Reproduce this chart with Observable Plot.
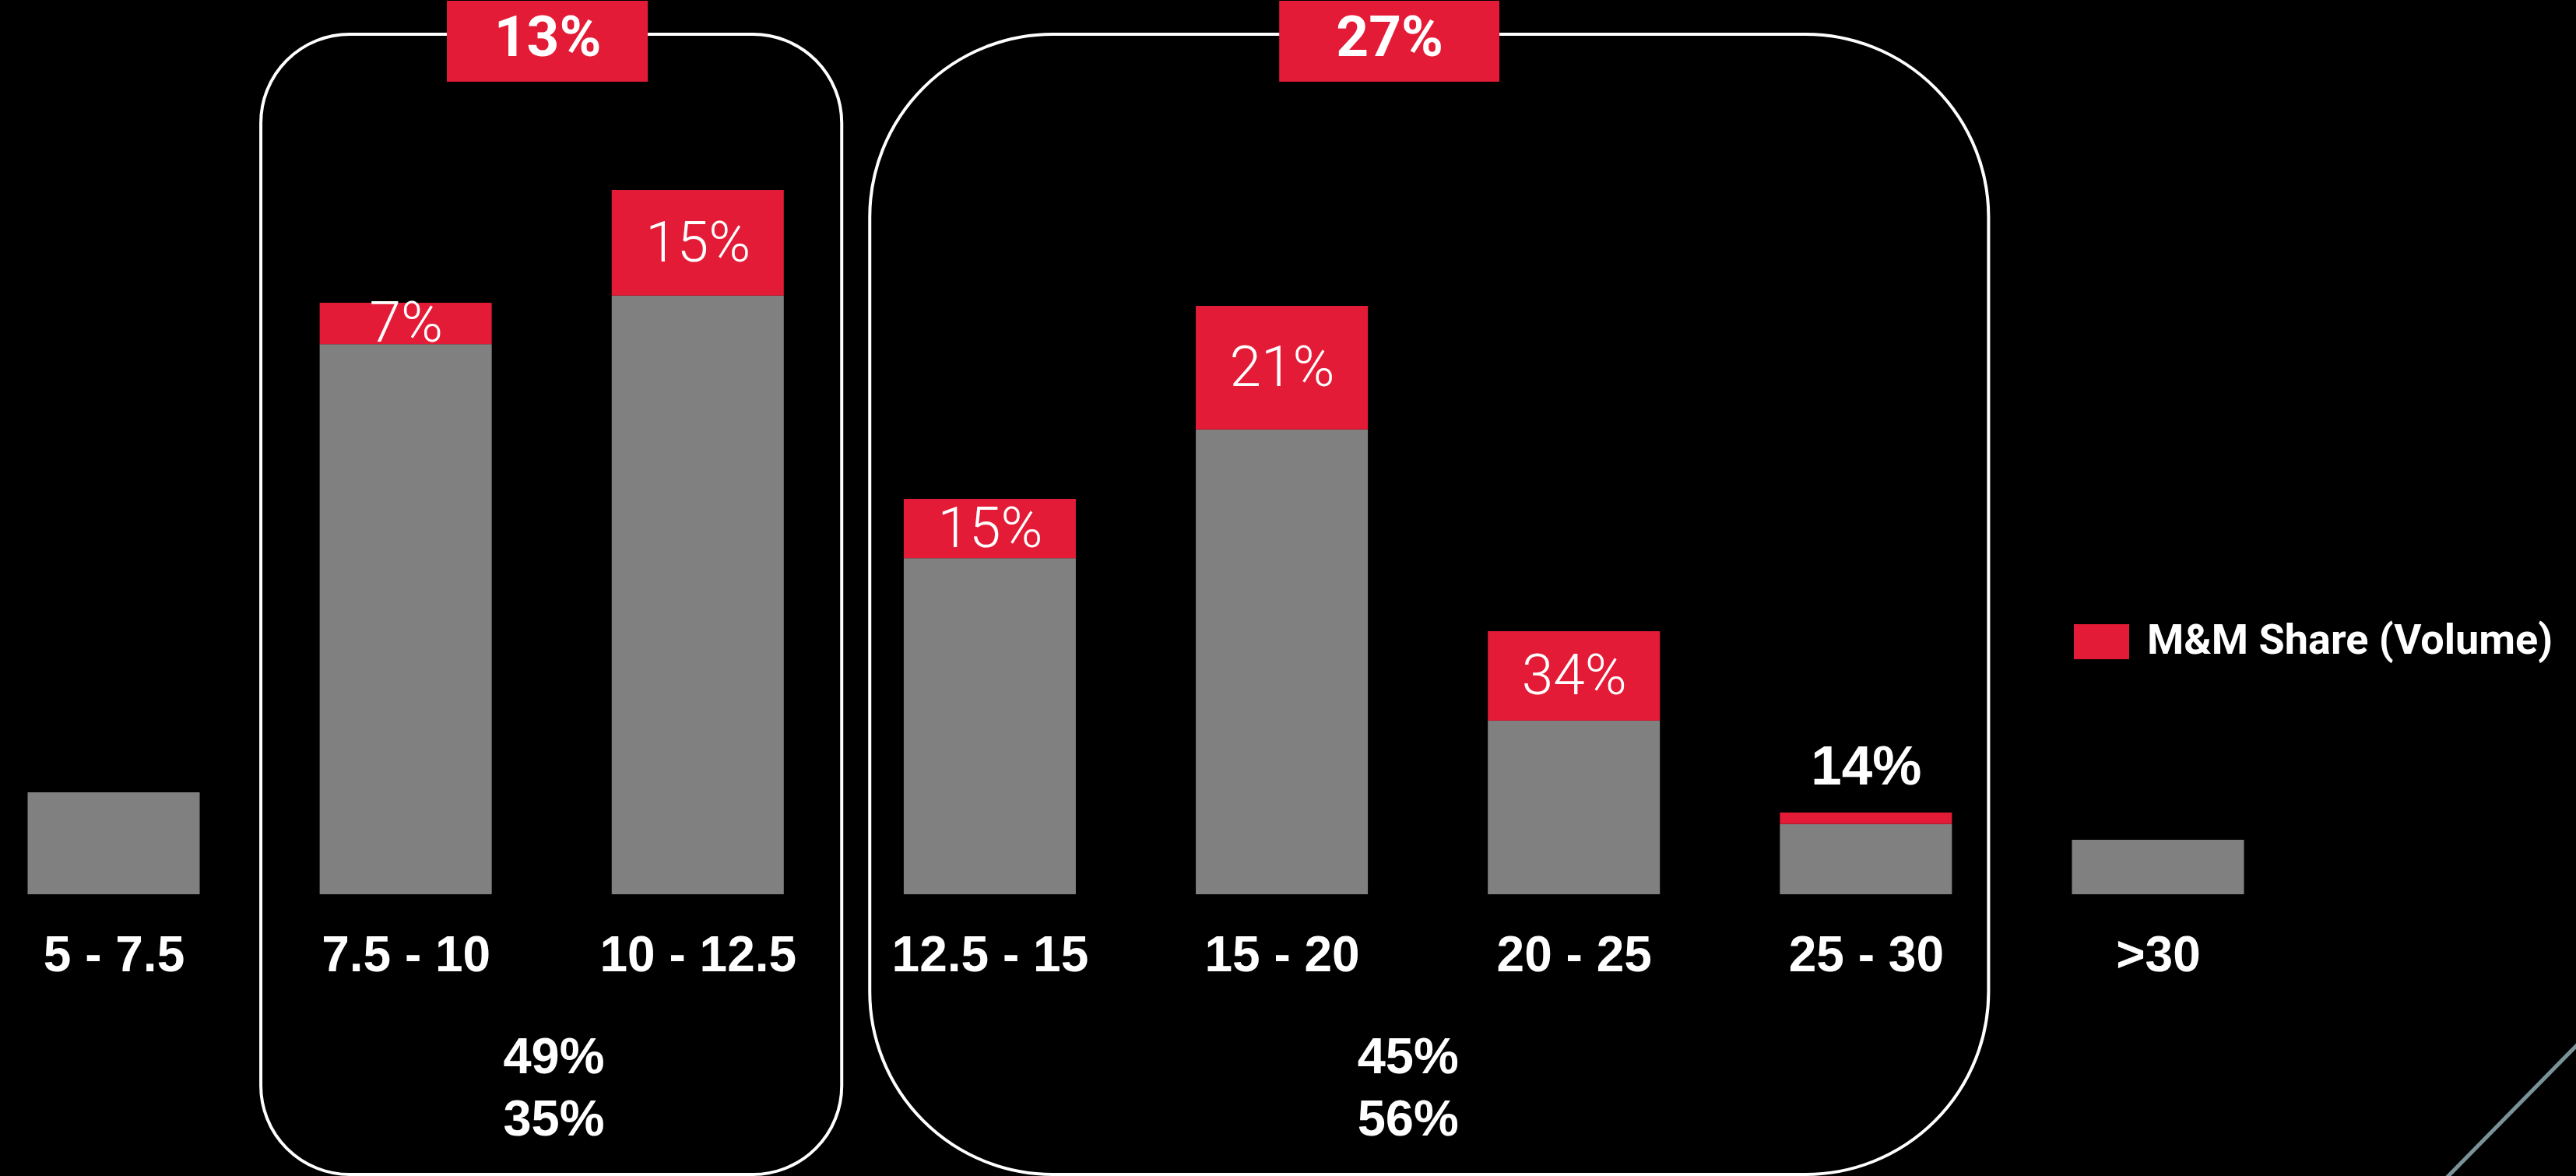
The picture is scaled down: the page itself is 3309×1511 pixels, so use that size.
<!DOCTYPE html>
<html>
<head>
<meta charset="utf-8">
<script src="https://cdn.jsdelivr.net/npm/d3@7"></script>
<script src="https://cdn.jsdelivr.net/npm/@observablehq/plot@0.6"></script>
<style>
  html, body { margin: 0; padding: 0; background: #000; }
  body { position: relative; width: 3309px; height: 1511px; overflow: hidden; }
  #chart svg { display: block; }
  g[aria-label="x-axis tick label"] text { font-weight: bold; }
  .legend-swatch { position: absolute; left: 2664px; top: 802px; width: 71px; height: 45px; background: #E31B36; }
  .legend-text { position: absolute; left: 2758px; top: 795px; font: bold 54px/1 Roboto, "Noto Sans", sans-serif; color: #fff; white-space: nowrap; }
  .deco { position: absolute; left: 3064px; top: 1423px; width: 330px; height: 5px; background: #7a9399; transform: rotate(-45.5deg); transform-origin: 50% 50%; }
</style>
</head>
<body>
<div id="chart"></div>
<div class="legend-swatch"></div>
<div class="legend-text" id="legendText"></div>
<div class="deco"></div>
<script>
// ---- data ----
const categories = ["5 - 7.5", "7.5 - 10", "10 - 12.5", "12.5 - 15", "15 - 20", "20 - 25", "25 - 30", ">30"];
const volume = [13.1, 76.0, 90.5, 50.8, 75.6, 33.8, 10.5, 7.0];      // total segment volume (relative)
const share = [null, 7, 15, 15, 21, 34, 14, null];                      // M&M share (%)
const groupStart = [1, 3];
const groupEnd = [2, 6];
const groupShare = ["13%", "27%"];
const groupLine1 = ["49%", "45%"];
const groupLine2 = ["35%", "56%"];
const legendLabel = "M&M Share (Volume)";

// ---- styling / layout ----
const RED = "#E31B36", GRAY = "#808080";
const halfBar = 0.2946;
const boxLayout = [
  {padL: 0.496, padR: 0.493, r: 114, labelX: 1.485, labelHalf: 0.344, bottomX: 1.506},
  {padL: 0.411, padR: 0.420, r: 235, labelX: 4.368, labelHalf: 0.377, bottomX: 4.431}
];
const boxTop = 110.5, boxBottom = -36.0;

const bars = categories.map((c, i) => ({i, c, v: volume[i], s: share[i]}));
const withShare = bars.filter(d => d.s != null);
const inside = withShare.filter(d => d.v * d.s / 100 >= 3);
const above = withShare.filter(d => d.v * d.s / 100 < 3);
const groups = groupStart.map((s, k) => ({
  start: s, end: groupEnd[k], share: groupShare[k], l1: groupLine1[k], l2: groupLine2[k], ...boxLayout[k]
}));

const boxMarks = groups.map(g => Plot.rect([g], {
  x1: d => d.start - d.padL, x2: d => d.end + d.padR,
  y1: boxBottom, y2: boxTop, rx: g.r,
  fill: "none", stroke: "white", strokeWidth: 4
}));

const chart = Plot.plot({
  width: 3309,
  height: 1511,
  marginTop: 0, marginRight: 0, marginLeft: 0, marginBottom: 362,
  style: {background: "black", color: "white", fontFamily: "Roboto, sans-serif", overflow: "visible"},
  x: {domain: [0, 7], range: [146, 2772]},
  y: {domain: [0, 100], range: [1149, 149], axis: null},
  marks: [
    ...boxMarks,
    Plot.rect(bars, {
      x1: d => d.i - halfBar, x2: d => d.i + halfBar,
      y1: 0, y2: d => d.s != null ? d.v * (1 - d.s / 100) : d.v,
      fill: GRAY
    }),
    Plot.rect(withShare, {
      x1: d => d.i - halfBar, x2: d => d.i + halfBar,
      y1: d => d.v * (1 - d.s / 100), y2: d => d.v,
      fill: RED
    }),
    Plot.text(inside, {
      x: d => d.i, y: d => d.v * (1 - d.s / 200), text: d => d.s + "%",
      fill: "white", fontSize: 73, fontWeight: 300, fontFamily: "Roboto"
    }),
    Plot.text(above, {
      x: d => d.i, y: d => d.v, text: d => d.s + "%", lineAnchor: "bottom", dy: -37,
      fill: "white", fontSize: 71, fontWeight: "bold", fontFamily: "Liberation Sans"
    }),
    Plot.rect(groups, {
      x1: d => d.labelX - d.labelHalf, x2: d => d.labelX + d.labelHalf,
      y1: 104.4, y2: 114.8, fill: RED
    }),
    Plot.text(groups, {
      x: d => d.labelX, y: 110.1, text: d => d.share,
      fill: "white", fontSize: 73, fontWeight: "bold", fontFamily: "Roboto"
    }),
    Plot.text(groups, {
      x: d => d.bottomX, y: -22.9, text: d => d.l1, lineAnchor: "bottom",
      fill: "white", fontSize: 65, fontWeight: "bold", fontFamily: "Liberation Sans"
    }),
    Plot.text(groups, {
      x: d => d.bottomX, y: -30.9, text: d => d.l2, lineAnchor: "bottom",
      fill: "white", fontSize: 65, fontWeight: "bold", fontFamily: "Liberation Sans"
    }),
    Plot.axisX({
      ticks: categories.map((_, i) => i), tickFormat: i => categories[i],
      tickSize: 0, tickPadding: 53, fontSize: 64, fontWeight: "bold",
      fontFamily: "Liberation Sans", label: null
    })
  ]
});
document.getElementById("chart").appendChild(chart);
document.getElementById("legendText").textContent = legendLabel;
</script>
</body>
</html>
